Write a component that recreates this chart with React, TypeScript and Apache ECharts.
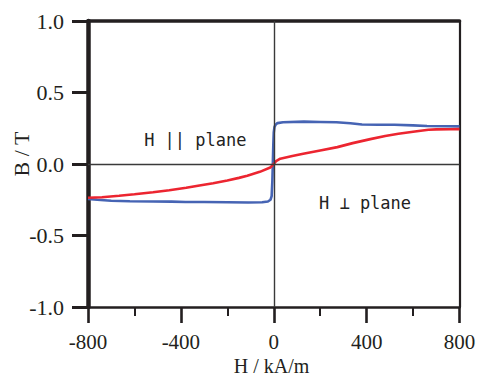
import React, { useEffect, useRef } from "react";
import * as echarts from "echarts";

// H in kA/m, B in T
const redH = [-800, -740, -666, -600, -520, -450, -377, -320, -261, -200, -150, -114, -60, -15, 0, 10, 28, 80, 127, 200, 274, 340, 416, 480, 537, 600, 666, 700, 760, 800];
const redB = [-0.236, -0.232, -0.222, -0.212, -0.198, -0.183, -0.166, -0.15, -0.134, -0.115, -0.097, -0.082, -0.055, -0.025, 0.0, 0.02, 0.037, 0.056, 0.072, 0.095, 0.118, 0.146, 0.174, 0.196, 0.211, 0.226, 0.24, 0.242, 0.243, 0.244];

const blueH = [-800, -760, -700, -620, -520, -440, -380, -300, -200, -110, -50, -25, -14, -9, -6, -4, -2, 0, 3, 8, 16, 40, 130, 200, 270, 330, 380, 450, 520, 600, 660, 740, 800];
const blueB = [-0.245, -0.25, -0.257, -0.26, -0.262, -0.263, -0.266, -0.266, -0.267, -0.269, -0.268, -0.262, -0.25, -0.225, -0.12, 0.0, 0.13, 0.22, 0.258, 0.275, 0.286, 0.292, 0.296, 0.294, 0.292, 0.285, 0.276, 0.275, 0.274, 0.27, 0.266, 0.264, 0.263];

const xTicks = [-800, -400, 0, 400, 800];
const yTicks = [-1.0, -0.5, 0.0, 0.5, 1.0];
const axisTitles = ["H / kA/m", "B / T"];
const annotations = ["H || plane", "H \u22A5 plane"];

const INK = "#231f20";
const SERIF = "'Liberation Serif', 'Times New Roman', serif";

export default function App() {
  const ref = useRef<HTMLDivElement>(null);
  useEffect(() => {
    document.body.style.margin = "0";
    const chart = echarts.init(ref.current!, null, { renderer: "svg" });
    const pairs = (xs: number[], ys: number[]) => xs.map((x, i) => [x, ys[i]]);
    chart.setOption({
      animation: false,
      backgroundColor: "#ffffff",
      grid: { left: 88, top: 21, width: 371.5, height: 286, containLabel: false, outerBoundsMode: "none" },
      xAxis: [
        {
          type: "value",
          min: xTicks[0],
          max: xTicks[xTicks.length - 1],
          interval: 400,
          position: "bottom",
          axisLine: { show: true, onZero: false, lineStyle: { color: INK, width: 2.5 } },
          axisTick: { show: true, inside: false, length: 16, lineStyle: { color: INK, width: 2.6 } },
          minorTick: { show: true, splitNumber: 2, length: 9, lineStyle: { color: INK, width: 2 } },
          axisLabel: { margin: 24, fontSize: 21, fontFamily: SERIF, color: INK },
          splitLine: { show: false },
        },
        {
          type: "value",
          min: xTicks[0],
          max: xTicks[xTicks.length - 1],
          interval: 400,
          position: "top",
          axisLine: { show: true, onZero: false, lineStyle: { color: INK, width: 3.6 } },
          axisTick: { show: false },
          axisLabel: { show: false },
          splitLine: { show: false },
        },
      ],
      yAxis: [
        {
          type: "value",
          min: yTicks[0],
          max: yTicks[yTicks.length - 1],
          interval: 0.5,
          position: "left",
          axisLine: { show: true, onZero: false, lineStyle: { color: INK, width: 4.5 } },
          axisTick: { show: true, inside: false, length: 16, lineStyle: { color: INK, width: 3 } },
          axisLabel: {
            margin: 24,
            fontSize: 22,
            fontFamily: SERIF,
            color: INK,
            formatter: (v: number) => v.toFixed(1),
          },
          splitLine: { show: false },
        },
        {
          type: "value",
          min: yTicks[0],
          max: yTicks[yTicks.length - 1],
          interval: 0.5,
          position: "right",
          axisLine: { show: true, onZero: false, lineStyle: { color: INK, width: 2.2 } },
          axisTick: { show: false },
          axisLabel: { show: false },
          splitLine: { show: false },
        },
      ],
      graphic: [
        {
          type: "text",
          x: 271.5,
          y: 366,
          style: {
            text: axisTitles[0],
            fontSize: 20,
            fontFamily: SERIF,
            fill: INK,
            textAlign: "center",
            textVerticalAlign: "middle",
          },
        },
        {
          type: "text",
          x: 21.5,
          y: 154,
          rotation: Math.PI / 2,
          style: {
            text: axisTitles[1],
            fontSize: 22,
            fontFamily: SERIF,
            fill: INK,
            textAlign: "center",
            textVerticalAlign: "middle",
          },
        },
        {
          type: "text",
          x: 195.3,
          y: 139.7,
          style: {
            text: annotations[0],
            fontSize: 17,
            fontFamily: "'DejaVu Sans Mono', monospace",
            fill: "#222222",
            textAlign: "center",
            textVerticalAlign: "middle",
          },
        },
        {
          type: "text",
          x: 365,
          y: 203,
          style: {
            text: annotations[1],
            fontSize: 17,
            fontFamily: "'DejaVu Sans Mono', monospace",
            fill: "#222222",
            textAlign: "center",
            textVerticalAlign: "middle",
          },
        },
      ],
      series: [
        {
          name: "zero",
          type: "line",
          data: [],
          silent: true,
          markLine: {
            silent: true,
            symbol: ["none", "none"],
            label: { show: false },
            lineStyle: { color: "#3a3a3a", width: 1.4, type: "solid" },
            data: [{ xAxis: 0 }, { yAxis: 0 }],
          },
        },
        {
          name: "perpendicular",
          type: "line",
          data: pairs(blueH, blueB),
          showSymbol: false,
          symbol: "none",
          lineStyle: { color: "#4664b4", width: 2.6 },
          itemStyle: { color: "#4664b4" },
        },
        {
          name: "parallel",
          type: "line",
          data: pairs(redH, redB),
          showSymbol: false,
          symbol: "none",
          lineStyle: { color: "#ec2530", width: 2.6 },
          itemStyle: { color: "#ec2530" },
        },
      ],
    });
    return () => chart.dispose();
  }, []);
  return <div ref={ref} style={{ width: 478, height: 378 }} />;
}
